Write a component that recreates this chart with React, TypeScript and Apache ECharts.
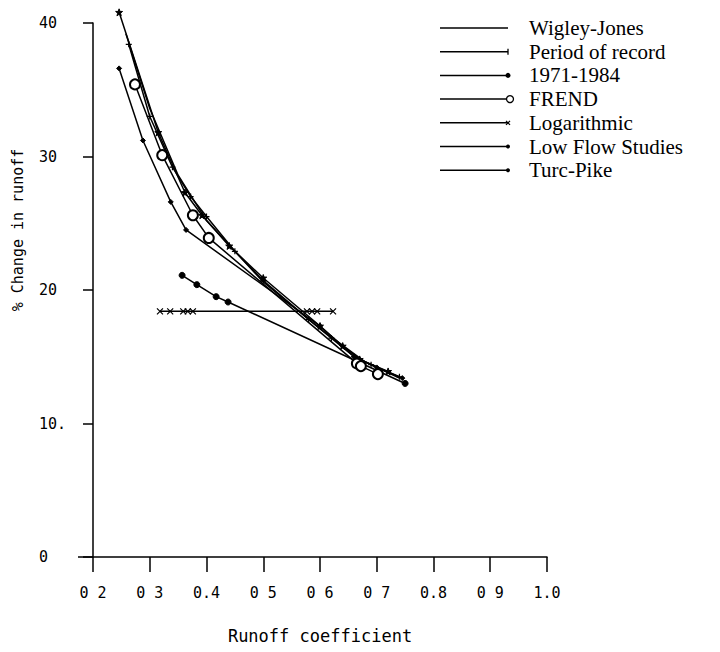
import React, { useEffect, useRef } from "react";
import * as echarts from "echarts";

const seriesNames = [
  "Wigley-Jones",
  "Period of record",
  "1971-1984",
  "FREND",
  "Logarithmic",
  "Low Flow Studies",
  "Turc-Pike",
];

const wigleyJones: number[][] = [
  [0.258, 39.2], [0.3, 33.6], [0.35, 28.6], [0.4, 25.2], [0.5, 20.6], [0.6, 17.1], [0.68, 14.6], [0.74, 13.4],
];
const periodOfRecord: number[][] = [
  [0.263, 38.4], [0.3, 33.0], [0.34, 29.2], [0.372, 27.0], [0.4, 25.5], [0.45, 22.9], [0.5, 20.7],
  [0.58, 17.8], [0.62, 16.4], [0.66, 15.0], [0.69, 14.4], [0.74, 13.5],
];
const period7184: number[][] = [
  [0.246, 40.8], [0.315, 31.8], [0.362, 27.3], [0.392, 25.6], [0.44, 23.3], [0.5, 20.9],
  [0.6, 17.3], [0.64, 15.8], [0.67, 14.8], [0.72, 13.9],
];
const frend: number[][] = [
  [0.274, 35.4], [0.322, 30.1], [0.376, 25.6], [0.404, 23.9], [0.665, 14.5], [0.672, 14.3], [0.702, 13.7],
];
const logarithmicX: number[] = [0.318, 0.336, 0.359, 0.367, 0.376, 0.577, 0.586, 0.595, 0.623];
const logarithmicY = 18.4;
const lowFlow: number[][] = [
  [0.246, 36.6], [0.288, 31.2], [0.337, 26.6], [0.364, 24.5], [0.6, 17.3], [0.66, 15.0], [0.7, 14.2], [0.745, 13.4],
];
const turcPike: number[][] = [
  [0.357, 21.1], [0.383, 20.4], [0.417, 19.5], [0.438, 19.1], [0.75, 13.0],
];

const xTickLabels = ["0 2", "0 3", "0.4", "0 5", "0 6", "0 7", "0.8", "0 9", "1.0"];
const yTickLabels = ["0", "10.", "20", "30", "40"];

const STAR =
  "path://M5,0L6.2,3.5L10,3.6L7,6L8.1,9.6L5,7.5L1.9,9.6L3,6L0,3.6L3.8,3.5Z";
const CROSS = "path://M0,0L10,10M10,0L0,10";
const PLUS = "path://M5,0L5,10M0,5L10,5";

export default function App() {
  const ref = useRef<HTMLDivElement>(null);
  useEffect(() => {
    if (!ref.current) return;
    const chart = echarts.init(ref.current, undefined, { renderer: "svg" });
    const axisFont = { fontFamily: "DejaVu Sans Mono", fontSize: 15, color: "#000" };
    const line = { color: "#000", width: 1.5 };
    const mk = (name: string, data: number[][], symbol: string, size: any, extra: any = {}) => ({
      name,
      type: "line",
      data,
      symbol,
      symbolSize: size,
      showSymbol: symbol !== "none",
      clip: false,
      lineStyle: line,
      itemStyle: { color: "#000", borderColor: "#000", borderWidth: 1 },
      z: 3,
      ...extra,
    });

    const legendTop = 28;
    const legendGap = 23.7;
    const lx1 = 440;
    const lx2 = 508;
    const legendMarkers: any[] = [];
    seriesNames.forEach((n, i) => {
      const y = legendTop + i * legendGap;
      legendMarkers.push({
        type: "line",
        shape: { x1: lx1, y1: y, x2: lx2, y2: y },
        style: { stroke: "#000", lineWidth: 1.5 },
      });
      legendMarkers.push({
        type: "text",
        x: 529,
        y,
        style: {
          text: n,
          font: "21px 'Liberation Serif'",
          fill: "#000",
          textVerticalAlign: "middle",
        },
      });
      if (i === 1) {
        legendMarkers.push({ type: "line", shape: { x1: lx2, y1: y - 3, x2: lx2, y2: y + 3 }, style: { stroke: "#000", lineWidth: 1.3 } });
      } else if (i === 2) {
        legendMarkers.push({ type: "circle", shape: { cx: lx2, cy: y, r: 2.5 }, style: { fill: "#000" } });
      } else if (i === 3) {
        legendMarkers.push({ type: "circle", shape: { cx: lx2 + 2, cy: y, r: 3.5 }, style: { fill: "#fff", stroke: "#000", lineWidth: 1.3 } });
      } else if (i === 4) {
        legendMarkers.push({ type: "line", shape: { x1: lx2 - 2, y1: y - 2, x2: lx2 + 2, y2: y + 2 }, style: { stroke: "#000", lineWidth: 1.2 } });
        legendMarkers.push({ type: "line", shape: { x1: lx2 - 2, y1: y + 2, x2: lx2 + 2, y2: y - 2 }, style: { stroke: "#000", lineWidth: 1.2 } });
      } else if (i === 5 || i === 6) {
        legendMarkers.push({ type: "circle", shape: { cx: lx2, cy: y, r: 2 }, style: { fill: "#000" } });
      }
    });

    chart.setOption({
      animation: false,
      backgroundColor: "#fff",
      grid: { left: 93, right: 173, top: 23, bottom: 95 },
      xAxis: {
        type: "value",
        min: 0.2,
        max: 1.0,
        interval: 0.1,
        splitLine: { show: false },
        axisLine: { lineStyle: { color: "#000", width: 1.5 } },
        axisTick: { length: 15, lineStyle: { color: "#000", width: 1.5 } },
        axisLabel: {
          ...axisFont,
          margin: 28,
          formatter: (v: number) => xTickLabels[Math.round((v - 0.2) * 10)] ?? "",
        },
        name: "Runoff coefficient",
        nameLocation: "middle",
        nameGap: 70,
        nameTextStyle: { ...axisFont, fontSize: 17 },
      },
      yAxis: {
        type: "value",
        min: 0,
        max: 40,
        interval: 10,
        splitLine: { show: false },
        axisLine: { show: true, lineStyle: { color: "#000", width: 1.5 } },
        axisTick: { show: true, length: 10, lineStyle: { color: "#000", width: 1.5 } },
        axisLabel: {
          ...axisFont,
          margin: 54,
          align: "left",
          formatter: (v: number) => yTickLabels[Math.round(v / 10)] ?? "",
        },
      },
      graphic: [
        ...legendMarkers,
        {
          type: "text",
          x: 18,
          y: 230,
          rotation: Math.PI / 2,
          style: {
            text: "% Change in runoff",
            font: "15px 'DejaVu Sans Mono'",
            fill: "#000",
            textAlign: "center",
            textVerticalAlign: "middle",
          },
        },
        {
          type: "line",
          shape: { x1: 78, y1: 557, x2: 93, y2: 557 },
          style: { stroke: "#000", lineWidth: 1.5 },
        },
      ],
      series: [
        mk(seriesNames[0], wigleyJones, "none", 0),
        mk(seriesNames[1], periodOfRecord, PLUS, 6, {
          itemStyle: { color: "#000", borderColor: "#000", borderWidth: 1.2 },
        }),
        mk(seriesNames[2], period7184, STAR, 7),
        mk(seriesNames[3], frend, "emptyCircle", 10, {
          itemStyle: { color: "#000", borderColor: "#000", borderWidth: 1.4 },
        }),
        mk(seriesNames[4], logarithmicX.map((x) => [x, logarithmicY]), CROSS, 6, {
          itemStyle: { color: "#000", borderColor: "#000", borderWidth: 1.2 },
        }),
        mk(seriesNames[5], lowFlow, "diamond", 5),
        mk(seriesNames[6], turcPike, "circle", 6),
      ],
    });
    return () => chart.dispose();
  }, []);
  return (
    <div
      ref={ref}
      style={{ position: "absolute", left: 0, top: 0, width: 720, height: 652, background: "#fff" }}
    />
  );
}
